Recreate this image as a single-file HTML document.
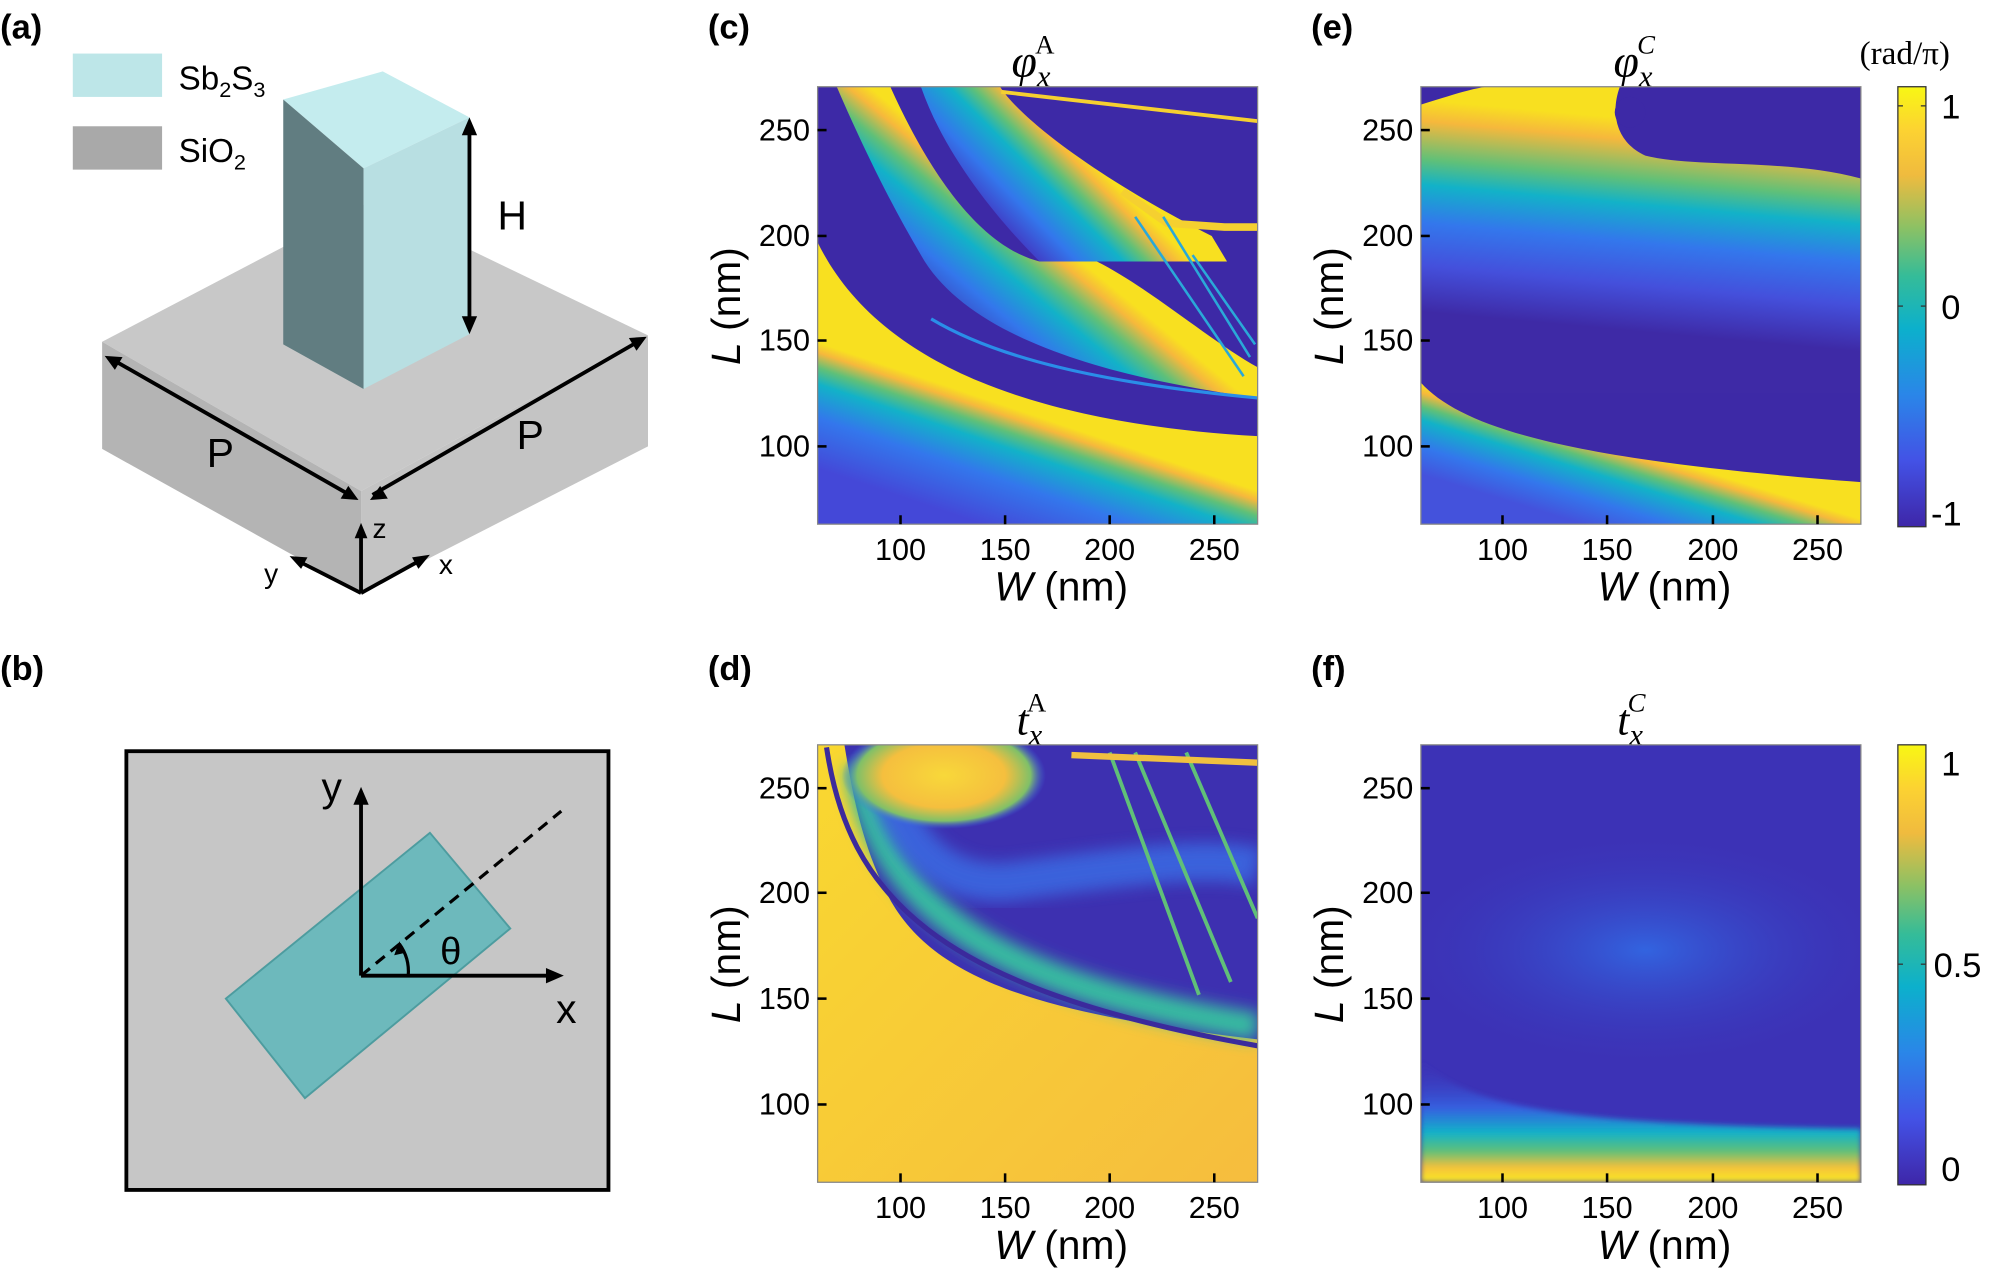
<!DOCTYPE html>
<html><head><meta charset="utf-8"><style>
html,body{margin:0;padding:0;background:#fff;}
svg{display:block;}
text{font-family:"Liberation Sans",Arial,sans-serif;fill:#000;}
.t{font-size:24px;}
.ax{font-size:32px;}
.pl{font-size:27px;font-weight:bold;}
.se{font-family:"Liberation Serif",serif;}
</style></head><body>
<svg width="2000" height="1269" viewBox="0 0 1568 995" xmlns="http://www.w3.org/2000/svg">
<defs>
<linearGradient id="par" x1="0" y1="1" x2="0" y2="0">
<stop offset="0" stop-color="#3e26a8"/><stop offset="0.15" stop-color="#4352e6"/><stop offset="0.3" stop-color="#2a86e8"/><stop offset="0.45" stop-color="#0cb0cc"/><stop offset="0.57" stop-color="#35bc98"/><stop offset="0.68" stop-color="#8cc164"/><stop offset="0.8" stop-color="#f0bb3e"/><stop offset="0.9" stop-color="#fcd232"/><stop offset="1" stop-color="#f8f714"/>
</linearGradient>
<linearGradient id="g1" gradientUnits="userSpaceOnUse" x1="800" y1="322" x2="770" y2="411">
<stop offset="0" stop-color="#f8e020"/><stop offset="0.08" stop-color="#f6b83c"/><stop offset="0.2" stop-color="#60c078"/><stop offset="0.33" stop-color="#12b2c8"/><stop offset="0.6" stop-color="#3377ec"/><stop offset="1" stop-color="#4448d8"/>
</linearGradient>
<linearGradient id="g2" gradientUnits="userSpaceOnUse" x1="860" y1="215" x2="790" y2="300">
<stop offset="0" stop-color="#f8e020"/><stop offset="0.1" stop-color="#f6b83c"/><stop offset="0.25" stop-color="#60c078"/><stop offset="0.4" stop-color="#12b2c8"/><stop offset="0.65" stop-color="#3377ec"/><stop offset="1" stop-color="#3f2aa8"/>
</linearGradient>
<linearGradient id="g3" gradientUnits="userSpaceOnUse" x1="870" y1="140" x2="810" y2="200">
<stop offset="0" stop-color="#f8e020"/><stop offset="0.12" stop-color="#f6b83c"/><stop offset="0.3" stop-color="#60c078"/><stop offset="0.45" stop-color="#12b2c8"/><stop offset="0.75" stop-color="#3377ec"/><stop offset="1" stop-color="#4040c8"/>
</linearGradient>
<linearGradient id="e1" gradientUnits="userSpaceOnUse" x1="1300" y1="95" x2="1285" y2="260">
<stop offset="0" stop-color="#f8e020"/><stop offset="0.1" stop-color="#f6b83c"/><stop offset="0.28" stop-color="#60c078"/><stop offset="0.4" stop-color="#12b2c8"/><stop offset="0.58" stop-color="#3377ec"/><stop offset="0.78" stop-color="#4450dc"/><stop offset="1" stop-color="#3e2aa6"/>
</linearGradient>
<linearGradient id="e2" gradientUnits="userSpaceOnUse" x1="1290" y1="355" x2="1270" y2="420">
<stop offset="0" stop-color="#f8e020"/><stop offset="0.1" stop-color="#f6b83c"/><stop offset="0.25" stop-color="#60c078"/><stop offset="0.4" stop-color="#12b2c8"/><stop offset="0.7" stop-color="#3377ec"/><stop offset="1" stop-color="#4452dc"/>
</linearGradient>
<linearGradient id="f1" x1="0" y1="0" x2="0" y2="1">
<stop offset="0" stop-color="#3b31b5" stop-opacity="0"/><stop offset="0.4" stop-color="#3560e0"/><stop offset="0.6" stop-color="#12b2c8"/><stop offset="0.75" stop-color="#60c078"/><stop offset="0.88" stop-color="#f6c03a"/><stop offset="1" stop-color="#f8ee20"/>
</linearGradient>
<linearGradient id="dbg" x1="0" y1="0" x2="1" y2="1">
<stop offset="0" stop-color="#f9d830"/><stop offset="1" stop-color="#f6bd3e"/>
</linearGradient>
<radialGradient id="blob" cx="0.5" cy="0.5" r="0.5">
<stop offset="0" stop-color="#f8d83a"/><stop offset="0.6" stop-color="#f5bf3e"/><stop offset="0.85" stop-color="#80c068"/><stop offset="1" stop-color="#3a6ee6" stop-opacity="0"/>
</radialGradient>
<radialGradient id="fblue" cx="0.5" cy="0.5" r="0.5">
<stop offset="0" stop-color="#3070ea" stop-opacity="0.8"/><stop offset="1" stop-color="#3b31b5" stop-opacity="0"/>
</radialGradient>
<clipPath id="cc"><rect x="641" y="68" width="345" height="343"/></clipPath>
<clipPath id="ce"><rect x="1114" y="68" width="345" height="343"/></clipPath>
<clipPath id="cd"><rect x="641" y="584" width="345" height="343"/></clipPath>
<clipPath id="cf"><rect x="1114" y="584" width="345" height="343"/></clipPath>
<filter id="bl" x="-0.2" y="-0.2" width="1.4" height="1.4"><feGaussianBlur stdDeviation="6"/></filter>
<filter id="bl2"><feGaussianBlur stdDeviation="2"/></filter>
</defs>

<!-- Panel (a) -->
<text class="pl" x="0" y="30">(a)</text>
<rect x="57" y="42" width="70" height="34" fill="#bde6e8"/>
<rect x="57" y="99" width="70" height="34" fill="#a9a9a9"/>
<text x="140" y="70" style="font-size:26px">Sb<tspan font-size="17" dy="6">2</tspan><tspan dy="-6">S</tspan><tspan font-size="17" dy="6">3</tspan></text>
<text x="140" y="127" style="font-size:26px">SiO<tspan font-size="17" dy="6">2</tspan></text>
<polygon points="80,268 290,158 508,263 283,385" fill="#c8c8c8"/>
<polygon points="80,268 283,385 283,465 80,352" fill="#b4b4b4"/>
<polygon points="283,385 508,263 508,350 283,465" fill="#c4c4c4"/>
<polygon points="222,78 300,56 368,92 285,132" fill="#c4ecee"/>
<polygon points="222,78 285,132 285,305 222,270" fill="#617d81"/>
<polygon points="285,132 368,92 368,262 285,305" fill="#b8dfe2"/>
<g stroke="#000" stroke-width="3" fill="none">
<line x1="368" y1="100" x2="368" y2="255"/>
<line x1="90" y1="283" x2="274" y2="388"/>
<line x1="292" y1="388" x2="500" y2="268"/>
<line x1="283" y1="465" x2="283" y2="418"/>
<line x1="283" y1="465" x2="330" y2="439"/>
<line x1="283" y1="465" x2="234" y2="440"/>
</g>
<g fill="#000">
<polygon points="368,92 362,106 374,106"/><polygon points="368,262 362,248 374,248"/>
<polygon points="82,279 96,280 90,290"/><polygon points="281,392 267,391 273,381"/>
<polygon points="290,392 298,381 304,391"/><polygon points="507,264 493,265 499,275"/>
<polygon points="283,410 278,422 288,422"/><polygon points="337,435 323,437 328,446"/><polygon points="227,436 241,437 236,446"/>
</g>
<text x="390" y="180" style="font-size:32px">H</text>
<text x="162" y="366" style="font-size:32px">P</text>
<text x="405" y="352" style="font-size:32px">P</text>
<text x="292" y="422" style="font-size:22px">z</text>
<text x="344" y="450" style="font-size:22px">x</text>
<text x="207" y="457" style="font-size:22px">y</text>

<!-- Panel (b) -->
<text class="pl" x="0" y="533">(b)</text>
<rect x="99" y="589" width="378" height="344" fill="#c6c6c6" stroke="#000" stroke-width="3"/>
<polygon points="177,783 337,653 400,728 239,861" fill="#6db9bc" stroke="#4d9c9f" stroke-width="1.5"/>
<g stroke="#000" stroke-width="3" fill="none">
<line x1="283" y1="765" x2="283" y2="628"/>
<line x1="283" y1="765" x2="432" y2="765"/>
<line x1="283" y1="765" x2="440" y2="636" stroke-dasharray="9,6" stroke-width="2.5"/>
<path d="M320,765 A37,37 0 0 0 313,740" stroke-width="2.5"/>
</g>
<polygon points="283,617 277,631 289,631" fill="#000"/><polygon points="442,765 428,759 428,771" fill="#000"/>
<polygon points="313,738 309,749 318,747" fill="#000"/>
<text x="345" y="756" style="font-size:30px">θ</text>
<text x="252" y="628" style="font-size:32px">y</text>
<text x="436" y="802" style="font-size:32px">x</text>

<!-- Panel (c) -->
<text class="pl" x="555" y="30">(c)</text>
<text x="793" y="60" class="se" style="font-size:36px;font-style:italic">φ<tspan font-size="24" dy="8">x</tspan><tspan font-size="21" font-style="normal" dx="-12" dy="-26">A</tspan></text>
<g clip-path="url(#cc)">
<rect x="641" y="68" width="345" height="343" fill="#3d29a6"/>
<path d="M722,68 L784,68 C805,100 880,150 950,185 L962,205 L815,205 C780,170 740,120 722,68Z" fill="url(#g3)"/>
<path d="M698,68 C735,150 775,195 815,205 L860,205 C900,225 950,268 986,288 L986,312 C900,300 770,275 725,205 C695,155 672,105 656,68Z" fill="url(#g2)"/>
<path d="M641,190 C680,270 780,330 986,342 L986,411 L641,411Z" fill="url(#g1)"/>
<path d="M730,250 C780,280 860,300 986,312" stroke="#2a8ee8" stroke-width="2.5" fill="none"/>
<path d="M785,72 L986,95" stroke="#f5d030" stroke-width="3" fill="none"/>
<path d="M880,150 L915,175 L960,178 L986,178" stroke="#f5d030" stroke-width="6" fill="none"/>
<path d="M890,170 L975,295 M912,170 L980,280 M935,200 L984,270" stroke="#2aa8d8" stroke-width="2" fill="none"/>
</g>
<rect x="641" y="68" width="345" height="343" fill="none" stroke="#888" stroke-width="1"/>

<!-- Panel (e) -->
<text class="pl" x="1028" y="30">(e)</text>
<text x="1265" y="60" class="se" style="font-size:36px;font-style:italic">φ<tspan font-size="24" dy="8">x</tspan><tspan font-size="21" dx="-12" dy="-26">C</tspan></text>
<g clip-path="url(#ce)">
<rect x="1114" y="68" width="345" height="343" fill="#3d29a6"/>
<rect x="1114" y="68" width="345" height="240" fill="url(#e1)"/>
<path d="M1270,68 L1459,68 L1459,140 C1400,124 1330,132 1290,122 C1268,112 1262,90 1270,68Z" fill="#3d29a6"/>
<path d="M1114,68 L1114,82 C1140,74 1152,70 1165,68Z" fill="#3d29a6"/>
<circle cx="1278" cy="88" r="12" fill="#3d29a6"/>
<path d="M1114,300 C1150,340 1250,362 1459,378 L1459,411 L1114,411Z" fill="url(#e2)"/>
</g>
<rect x="1114" y="68" width="345" height="343" fill="none" stroke="#888" stroke-width="1"/>

<!-- Panel (d) -->
<text class="pl" x="555" y="533">(d)</text>
<text x="797" y="576" class="se" style="font-size:34px;font-style:italic">t<tspan font-size="24" dy="8">x</tspan><tspan font-size="21" font-style="normal" dx="-12" dy="-26">A</tspan></text>
<g clip-path="url(#cd)">
<rect x="641" y="584" width="345" height="343" fill="url(#dbg)"/>
<path d="M662,584 L986,584 L986,815 C820,795 730,770 695,700 C675,660 668,620 662,584Z" fill="#3d30b0"/>
<path d="M672,600 C690,700 760,770 986,805" stroke="#38bca0" stroke-width="22" fill="none" filter="url(#bl)"/>
<path d="M690,590 C700,660 740,700 800,690 C880,680 950,670 986,680" stroke="#3a6ee6" stroke-width="30" fill="none" filter="url(#bl)" opacity="0.8"/>
<ellipse cx="740" cy="608" rx="80" ry="42" fill="url(#blob)"/>
<path d="M648,586 C665,700 730,775 986,820" stroke="#3b2a9c" stroke-width="4" fill="none"/>
<path d="M870,590 L940,780 M890,590 L965,770 M930,590 L986,720" stroke="#60c078" stroke-width="3" fill="none"/>
<path d="M840,592 L986,598" stroke="#f0c040" stroke-width="5" fill="none"/>
</g>
<rect x="641" y="584" width="345" height="343" fill="none" stroke="#888" stroke-width="1"/>

<!-- Panel (f) -->
<text class="pl" x="1028" y="533">(f)</text>
<text x="1268" y="576" class="se" style="font-size:34px;font-style:italic">t<tspan font-size="24" dy="8">x</tspan><tspan font-size="21" dx="-12" dy="-26">C</tspan></text>
<g clip-path="url(#cf)">
<rect x="1114" y="584" width="345" height="343" fill="#3c32b6"/>
<ellipse cx="1290" cy="745" rx="200" ry="95" fill="url(#fblue)"/>
<path d="M1114,830 C1150,872 1250,882 1459,885 L1459,927 L1114,927Z" fill="url(#f1)" filter="url(#bl2)"/>
</g>
<rect x="1114" y="584" width="345" height="343" fill="none" stroke="#888" stroke-width="1"/>

<!-- Colorbars -->
<rect x="1488" y="68" width="22" height="345" fill="url(#par)" stroke="#333" stroke-width="1"/>
<rect x="1488" y="584" width="22" height="345" fill="url(#par)" stroke="#333" stroke-width="1"/>
<text x="1458" y="50" class="se" style="font-size:26px">(rad/π)</text>
<text class="t" x="1522" y="93" style="font-size:27px">1</text>
<text class="t" x="1522" y="250" style="font-size:27px">0</text>
<text class="t" x="1514" y="412" style="font-size:27px">-1</text>
<text class="t" x="1522" y="608" style="font-size:27px">1</text>
<text class="t" x="1516" y="766" style="font-size:27px">0.5</text>
<text class="t" x="1522" y="926" style="font-size:27px">0</text>
<g stroke="#333" stroke-width="1">
<line x1="1488" y1="83" x2="1492" y2="83"/><line x1="1506" y1="83" x2="1510" y2="83"/>
<line x1="1488" y1="240" x2="1492" y2="240"/><line x1="1506" y1="240" x2="1510" y2="240"/>
<line x1="1488" y1="756" x2="1492" y2="756"/><line x1="1506" y1="756" x2="1510" y2="756"/>
</g>

<!-- Ticks & labels -->
<g stroke="#000" stroke-width="2">
<line x1="706" y1="411" x2="706" y2="404"/><line x1="788" y1="411" x2="788" y2="404"/><line x1="870" y1="411" x2="870" y2="404"/><line x1="952" y1="411" x2="952" y2="404"/>
<line x1="641" y1="102" x2="648" y2="102"/><line x1="641" y1="185" x2="648" y2="185"/><line x1="641" y1="267" x2="648" y2="267"/><line x1="641" y1="350" x2="648" y2="350"/>
<line x1="1178" y1="411" x2="1178" y2="404"/><line x1="1260" y1="411" x2="1260" y2="404"/><line x1="1343" y1="411" x2="1343" y2="404"/><line x1="1425" y1="411" x2="1425" y2="404"/>
<line x1="1114" y1="102" x2="1121" y2="102"/><line x1="1114" y1="185" x2="1121" y2="185"/><line x1="1114" y1="267" x2="1121" y2="267"/><line x1="1114" y1="350" x2="1121" y2="350"/>
<line x1="706" y1="927" x2="706" y2="920"/><line x1="788" y1="927" x2="788" y2="920"/><line x1="870" y1="927" x2="870" y2="920"/><line x1="952" y1="927" x2="952" y2="920"/>
<line x1="641" y1="618" x2="648" y2="618"/><line x1="641" y1="700" x2="648" y2="700"/><line x1="641" y1="783" x2="648" y2="783"/><line x1="641" y1="866" x2="648" y2="866"/>
<line x1="1178" y1="927" x2="1178" y2="920"/><line x1="1260" y1="927" x2="1260" y2="920"/><line x1="1343" y1="927" x2="1343" y2="920"/><line x1="1425" y1="927" x2="1425" y2="920"/>
<line x1="1114" y1="618" x2="1121" y2="618"/><line x1="1114" y1="700" x2="1121" y2="700"/><line x1="1114" y1="783" x2="1121" y2="783"/><line x1="1114" y1="866" x2="1121" y2="866"/>
</g>
<g class="t" text-anchor="middle">
<text x="706" y="439">100</text><text x="788" y="439">150</text><text x="870" y="439">200</text><text x="952" y="439">250</text>
<text x="1178" y="439">100</text><text x="1260" y="439">150</text><text x="1343" y="439">200</text><text x="1425" y="439">250</text>
<text x="706" y="955">100</text><text x="788" y="955">150</text><text x="870" y="955">200</text><text x="952" y="955">250</text>
<text x="1178" y="955">100</text><text x="1260" y="955">150</text><text x="1343" y="955">200</text><text x="1425" y="955">250</text>
</g>
<g class="t" text-anchor="end">
<text x="635" y="110">250</text><text x="635" y="193">200</text><text x="635" y="275">150</text><text x="635" y="358">100</text>
<text x="1108" y="110">250</text><text x="1108" y="193">200</text><text x="1108" y="275">150</text><text x="1108" y="358">100</text>
<text x="635" y="626">250</text><text x="635" y="708">200</text><text x="635" y="791">150</text><text x="635" y="874">100</text>
<text x="1108" y="626">250</text><text x="1108" y="708">200</text><text x="1108" y="791">150</text><text x="1108" y="874">100</text>
</g>
<g class="ax" text-anchor="middle">
<text x="832" y="471"><tspan font-style="italic">W</tspan>  (nm)</text>
<text x="1305" y="471"><tspan font-style="italic">W</tspan>  (nm)</text>
<text x="832" y="987"><tspan font-style="italic">W</tspan>  (nm)</text>
<text x="1305" y="987"><tspan font-style="italic">W</tspan>  (nm)</text>
<text transform="translate(580,240) rotate(-90)"><tspan font-style="italic">L</tspan> (nm)</text>
<text transform="translate(1053,240) rotate(-90)"><tspan font-style="italic">L</tspan> (nm)</text>
<text transform="translate(580,756) rotate(-90)"><tspan font-style="italic">L</tspan> (nm)</text>
<text transform="translate(1053,756) rotate(-90)"><tspan font-style="italic">L</tspan> (nm)</text>
</g>
</svg>
</body></html>
